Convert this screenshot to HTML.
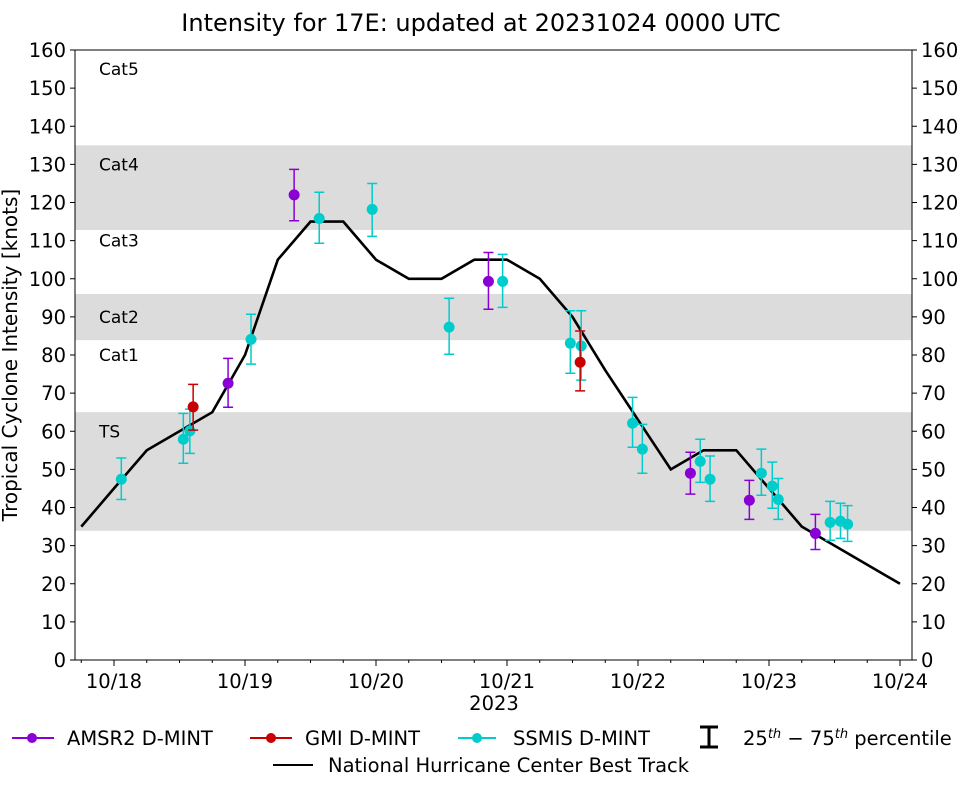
<!DOCTYPE html>
<html><head><meta charset="utf-8"><style>
html,body{margin:0;padding:0;background:#fff}
svg{display:block;font-family:"DejaVu Sans","Liberation Sans",sans-serif}
</style></head><body>
<svg id="chart" width="962" height="785" viewBox="0 0 962 785">
<text x="481" y="31" font-size="24" text-anchor="middle">Intensity for 17E: updated at 20231024 0000 UTC</text>
<g id="bands"></g><g id="grid"></g><g id="marks"></g><g id="axes"></g>
<text transform="translate(17,355) rotate(-90)" font-size="20" text-anchor="middle">Tropical Cyclone Intensity [knots]</text>
<text x="494" y="710" font-size="19.5" text-anchor="middle">2023</text>
<g id="legend" font-size="19.5">
 <g><line x1="12" y1="738" x2="54" y2="738" stroke="#8a00d4" stroke-width="2"/><circle cx="32" cy="738" r="5" fill="#8a00d4"/><text x="67" y="745">AMSR2 D-MINT</text></g>
 <g><line x1="250" y1="738" x2="292" y2="738" stroke="#c80000" stroke-width="2"/><circle cx="271" cy="738" r="5" fill="#c80000"/><text x="305" y="745">GMI D-MINT</text></g>
 <g><line x1="458" y1="738" x2="496" y2="738" stroke="#00cccc" stroke-width="2"/><circle cx="477" cy="738" r="5" fill="#00cccc"/><text x="513" y="745">SSMIS D-MINT</text></g>
 <g><path d="M700,727h18M709,727v20M700,747h18" stroke="#000" stroke-width="3" fill="none"/><text x="743" y="745">25<tspan font-size="13" dy="-7" font-style="italic">th</tspan><tspan dy="7"> − 75</tspan><tspan font-size="13" dy="-7" font-style="italic">th</tspan><tspan dy="7"> percentile</tspan></text></g>
 <g><line x1="273" y1="765" x2="313" y2="765" stroke="#000" stroke-width="2"/><text x="328" y="772">National Hurricane Center Best Track</text></g>
</g>
</svg>
<script>
// Best track: hours since 2023-10-17 18Z, knots
const btHours=[0,6,12,18,24,30,36,42,48,54,60,66,72,78,84,90,96,102,108,114,120,126,132,138,144,150];
const btVals=[35,45,55,60,65,80,105,115,115,105,100,100,105,105,100,90,76,63,50,55,55,45,35,30,25,20];
// hours since 2023-10-18 00Z
const amsrT=[20.9,33.0,68.6,105.6,116.4,128.5];
const amsrV=[72.6,122,99.3,49,41.9,33.2];
const amsrLo=[66.3,115.2,92,43.5,36.9,29];
const amsrHi=[79.1,128.7,106.9,54.5,47.1,38.2];
const gmiT=[14.5,85.4];
const gmiV=[66.4,78.1];
const gmiLo=[60.3,70.6];
const gmiHi=[72.3,86.3];
const ssT=[1.34,12.7,13.9,25.1,37.6,47.3,61.4,71.2,83.6,85.6,95.0,96.8,107.4,109.2,118.6,120.6,121.7,131.2,133.1,134.4];
const ssV=[47.4,57.9,60.1,84.1,115.8,118.2,87.3,99.3,83.1,82.4,62.1,55.3,52.1,47.4,49,45.6,42.1,36.1,36.4,35.6];
const ssLo=[42.1,51.6,54.2,77.6,109.3,111.1,80.2,92.5,75.2,73.4,55.8,49,46.6,41.6,43.2,39.8,36.9,31.4,31.9,31.1];
const ssHi=[53,64.7,65.8,90.7,122.7,125,94.9,106.4,91.6,91.6,68.9,61.8,57.9,53.5,55.3,51.9,47.6,41.6,41.1,40.5];
const yTicks=[0,10,20,30,40,50,60,70,80,90,100,110,120,130,140,150,160];
const xTickLabels=["10/18","10/19","10/20","10/21","10/22","10/23","10/24"];
const bandLo=[33.9,83.9,112.8];
const bandHi=[65,96,135];
const catNames=["Cat5","Cat4","Cat3","Cat2","Cat1","TS"];
const catLevels=[155,130,110,90,80,60];

const L=75,R=912,T=50,B=660;
const X0=114,PXD=131;
const xs=h=>X0+h/24*PXD;
const ys=v=>B-(v/160)*(B-T);
const NS="http://www.w3.org/2000/svg";
function mk(tag,attrs,parent){const e=document.createElementNS(NS,tag);for(const k in attrs)e.setAttribute(k,attrs[k]);parent.appendChild(e);return e;}
const bands=document.getElementById('bands'),marks=document.getElementById('marks'),axes=document.getElementById('axes');
bandLo.forEach((lo,i)=>{
  const r=mk('rect',{x:L,y:ys(bandHi[i]),width:R-L,height:ys(lo)-ys(bandHi[i]),fill:'#dcdcdc'},bands);
  
  
});
catNames.forEach((n,i)=>{
  const t=mk('text',{x:99,y:ys(catLevels[i])+6,'font-size':17},bands);t.textContent=n;
  
  
});
let d='';btHours.forEach((h,i)=>{d+=(i?'L':'M')+xs(h-6).toFixed(1)+','+ys(btVals[i]).toFixed(1);});
const bt=mk('path',{d:d,fill:'none',stroke:'#000','stroke-width':2.6},marks);


function series(T_,V,Lo,Hi,col,name){
  T_.forEach((t,i)=>{
    const x=xs(t);
    const g=mk('g',{},marks);
    
    
    mk('path',{d:`M${x-5},${ys(Hi[i])}h10M${x},${ys(Hi[i])}V${ys(Lo[i])}M${x-5},${ys(Lo[i])}h10`,stroke:col,'stroke-width':1.5,fill:'none'},g);
    mk('circle',{cx:x,cy:ys(V[i]),r:5.5,fill:col},g);
  });
}
series(ssT,ssV,ssLo,ssHi,'#00cccc','ssmis');
series(gmiT,gmiV,gmiLo,gmiHi,'#c80000','gmi');
series(amsrT,amsrV,amsrLo,amsrHi,'#8a00d4','amsr2');
const fr=mk('rect',{x:L,y:T,width:R-L,height:B-T,fill:'none',stroke:'#000','stroke-width':1},axes);


yTicks.forEach(v=>{
  const y=ys(v);
  mk('line',{x1:L-5,x2:L,y1:y,y2:y,stroke:'#000'},axes);
  mk('line',{x1:R,x2:R+5,y1:y,y2:y,stroke:'#000'},axes);
  const a=mk('text',{x:L-9,y:y+7,'font-size':19.5,'text-anchor':'end'},axes);a.textContent=v;
  
  
  const b=mk('text',{x:R+9,y:y+7,'font-size':19.5},axes);b.textContent=v;
  
  
});
for(let h=-6;h<=144;h+=6){
  const x=xs(h);
  if(x<L||x>R)continue;
  mk('line',{x1:x,x2:x,y1:B,y2:B+(h%24===0?6:3),stroke:'#000'},axes);
}
xTickLabels.forEach((s,i)=>{
  const x=X0+i*PXD;
  const t=mk('text',{x:x,y:B+28,'font-size':19.5,'text-anchor':'middle'},axes);t.textContent=s;
  
  
});
</script>
</body></html>
